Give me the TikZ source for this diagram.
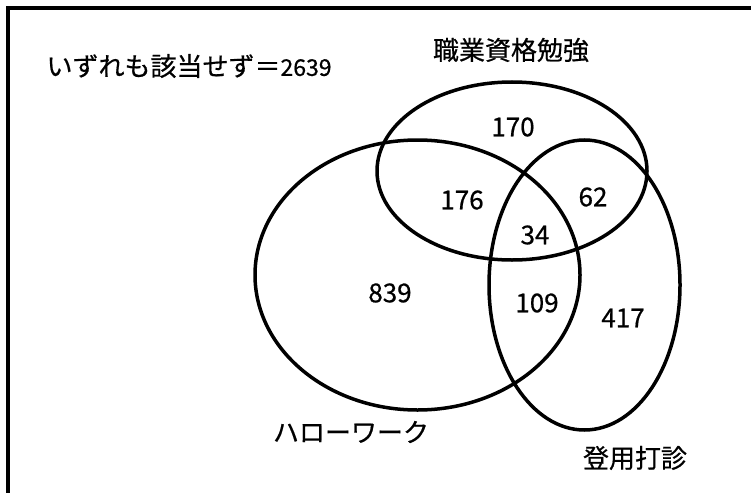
\documentclass[tikz,border=0pt]{standalone}
\usepackage{fontspec}
\setmainfont{Noto Sans CJK JP}[FakeBold=0.6]
\usepackage{tikz}
\usetikzlibrary{shapes.geometric}
\tikzset{%
    set/.style={draw, ellipse, line width=3.5pt, inner sep=0pt},
    count/.style={font=\fontsize{26}{30}\selectfont},
    setname/.style={font=\fontsize{26}{30}\selectfont}
}

\begin{document}
\begin{tikzpicture}[x=1pt, y=-1pt]
  \useasboundingbox (0,0) rectangle (751,492);
  \draw[line width=3.5pt] (8,500) -- (8,8) -- (760,8);

  \node[set, minimum width=325pt, minimum height=270pt] (hw) at (417.5,275) {};
  \node[set, minimum width=270pt, minimum height=178pt] (sk) at (512,171) {};
  \node[set, minimum width=191pt, minimum height=290pt] (td) at (584.5,285) {};

  \node[setname, anchor=west] (none) at (43,66) {いずれも該当せず＝{\fontsize{23}{28}\selectfont 2639}};
  \node[setname] (skname) at (511,50) {職業資格勉強};
  \node[setname] (hwname) at (351,432) {ハローワーク};
  \node[setname] (tdname) at (635,458) {登用打診};

  \node[count] (n170) at (513,127) {170};
  \node[count] (n176) at (462,200) {176};
  \node[count] (n62) at (593,197) {62};
  \node[count] (n34) at (535,235) {34};
  \node[count] (n839) at (390,293) {839};
  \node[count] (n109) at (537,303) {109};
  \node[count] (n417) at (623,318) {417};
\end{tikzpicture}
\end{document}
